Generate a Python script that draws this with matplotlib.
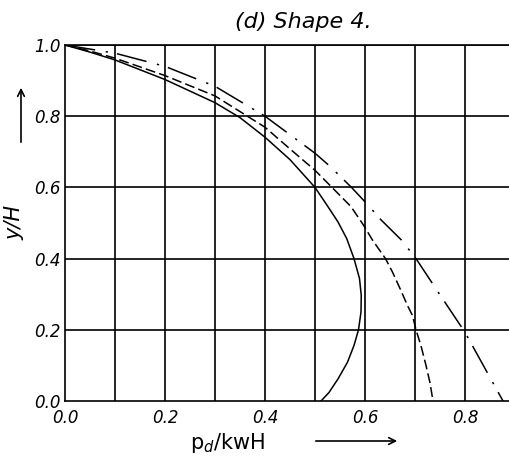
import matplotlib
matplotlib.use("Agg")
import matplotlib.pyplot as plt

# Data (x = p_d/kwH, y = y/H)
solid_x = [0.0, 0.05, 0.1, 0.2, 0.3, 0.35, 0.4, 0.45, 0.5, 0.524, 0.546, 0.5635,
           0.578, 0.589, 0.5925, 0.592, 0.587, 0.578, 0.565, 0.546, 0.528, 0.512]
solid_y = [1.0, 0.98, 0.958, 0.903, 0.838, 0.796, 0.741, 0.678, 0.6, 0.55, 0.503, 0.456,
           0.4, 0.344, 0.297, 0.25, 0.2, 0.156, 0.109, 0.062, 0.024, 0.0]

dashed_x = [0.0, 0.05, 0.1, 0.2, 0.3, 0.4, 0.45, 0.5, 0.534, 0.572, 0.597, 0.615, 0.641,
            0.655, 0.672, 0.685, 0.695, 0.702, 0.712, 0.722, 0.73, 0.736]
dashed_y = [1.0, 0.983, 0.963, 0.914, 0.857, 0.769, 0.708, 0.648, 0.6, 0.546, 0.494, 0.452,
            0.4, 0.362, 0.31, 0.268, 0.24, 0.2, 0.155, 0.1, 0.051, 0.0]

dashdot_x = [0.0, 0.1, 0.2, 0.3, 0.4, 0.5, 0.531, 0.573, 0.609, 0.629, 0.673, 0.702,
             0.751, 0.80, 0.876]
dashdot_y = [1.0, 0.977, 0.94, 0.884, 0.8, 0.696, 0.658, 0.6, 0.546, 0.513, 0.452, 0.4,
             0.296, 0.193, 0.0]

x_ticks = [0.0, 0.2, 0.4, 0.6, 0.8]
x_ticklabels = ["0.0", "0.2", "0.4", "0.6", "0.8"]
y_ticks = [0.0, 0.2, 0.4, 0.6, 0.8, 1.0]
y_ticklabels = ["0.0", "0.2", "0.4", "0.6", "0.8", "1.0"]
x_grid = [0.1, 0.2, 0.3, 0.4, 0.5, 0.6, 0.7, 0.8]

W, H = 510, 466
fig = plt.figure(figsize=(W / 100, H / 100), dpi=100)
ax = fig.add_axes([65 / W, 65 / H, (W - 65) / W, (401 - 45) / H])

ax.set_xlim(0, 0.89)
ax.set_ylim(0, 1.0)

for xv in x_grid:
    ax.axvline(xv, color="black", lw=1.2, zorder=1)
for yv in y_ticks[1:]:
    ax.axhline(yv, color="black", lw=1.2, zorder=1)

ax.plot(solid_x, solid_y, color="black", lw=1.1, zorder=3)
ax.plot(dashed_x, dashed_y, color="black", lw=1.1, dashes=(6.5, 2.7), zorder=3)
ax.plot(dashdot_x, dashdot_y, color="black", lw=1.1, dashes=(20, 7, 1.5, 6), zorder=3)

for s in ["left", "bottom", "top"]:
    ax.spines[s].set_linewidth(1.2)
ax.spines["right"].set_visible(False)

tick_font = dict(family="DejaVu Sans", style="italic", size=12)
ax.set_xticks(x_ticks)
ax.set_xticklabels(x_ticklabels, **tick_font)
ax.set_yticks(y_ticks)
ax.set_yticklabels(y_ticklabels, **tick_font)
ax.tick_params(axis="x", length=0, pad=6)
ax.tick_params(axis="y", length=0, pad=3)

fig.text(303 / W, 1 - 22 / H, "(d) Shape 4.", ha="center", va="center",
         family="DejaVu Sans", style="italic", size=16)
fig.text(15 / W, 1 - 222 / H, "y/H", ha="center", va="center", rotation=90,
         family="DejaVu Sans", style="italic", size=15)
fig.text(228 / W, 1 - 443 / H, r"p$_d$/kwH", ha="center", va="center",
         family="DejaVu Sans", size=15)

fig.add_artist(matplotlib.patches.FancyArrowPatch(
    (21 / W, 1 - 145 / H), (21 / W, 1 - 85 / H), transform=fig.transFigure,
    arrowstyle="->", mutation_scale=12, color="black", lw=1.2))
fig.add_artist(matplotlib.patches.FancyArrowPatch(
    (313 / W, 1 - 441 / H), (400 / W, 1 - 441 / H), transform=fig.transFigure,
    arrowstyle="->", mutation_scale=12, color="black", lw=1.2))

fig.savefig("out.png", dpi=100)
